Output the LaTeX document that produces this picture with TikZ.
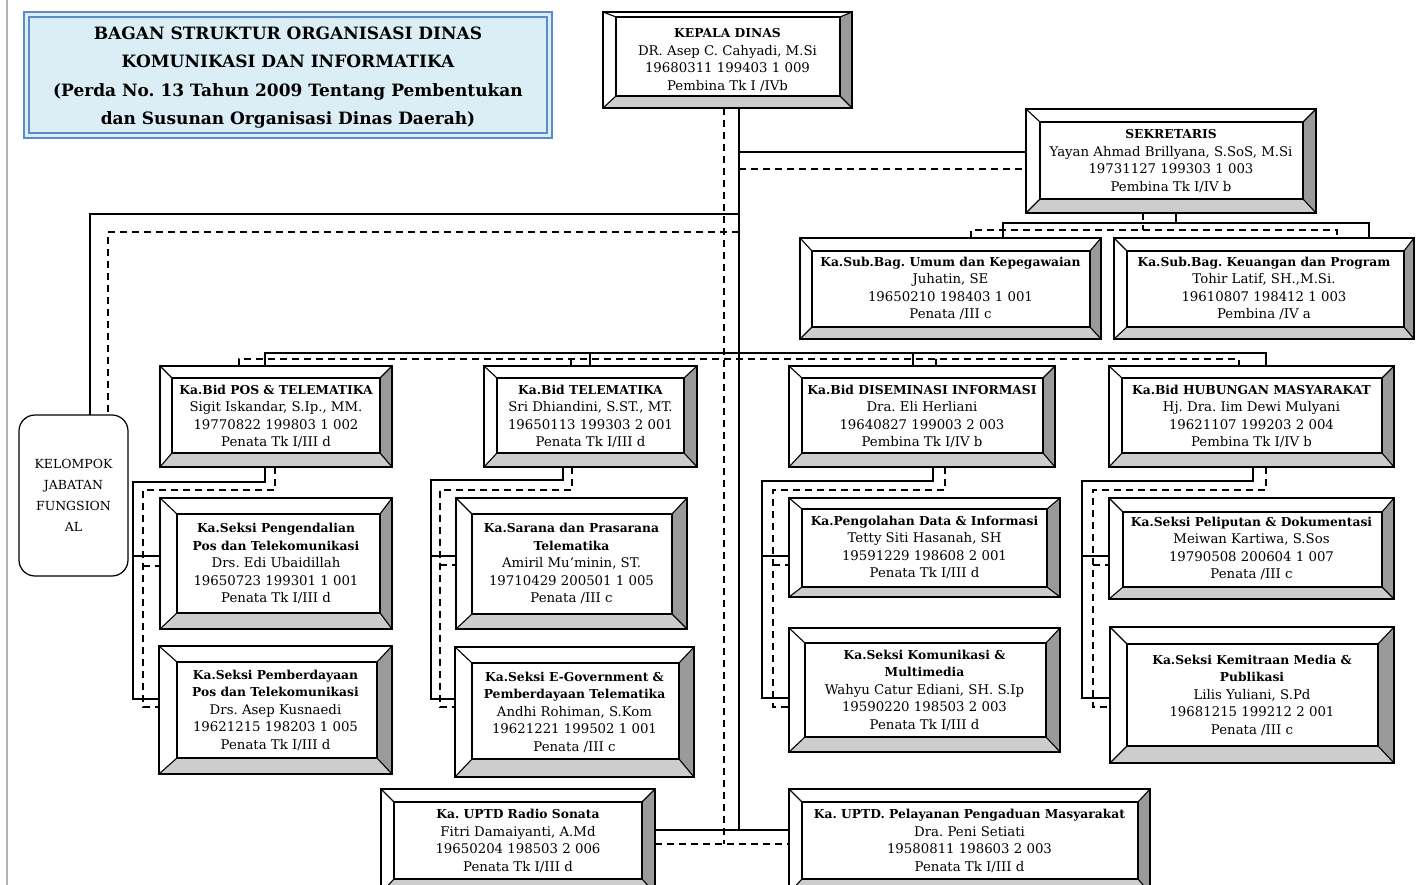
\documentclass[tikz,border=0pt]{standalone}
\usepackage{fontspec}
\setmainfont{DejaVu Serif}
\frenchspacing
\definecolor{bevdark}{HTML}{9A9A9A}
\definecolor{bevlight}{HTML}{CDCDCD}
\definecolor{titlefill}{HTML}{DCEEF5}
\definecolor{titleblue}{HTML}{5B8CC8}
\newcommand\boxfont{\fontsize{13.3}{17.5}\selectfont}
\newcommand\hd[1]{{\fontsize{12.3}{17.5}\selectfont\bfseries #1}}
\newcommand\mybev[5]{%
 \fill[bevdark] (#1.north east) -- (#1.south east) -- ([xshift=-#4pt,yshift=#5pt]#1.south east) -- ([xshift=-#4pt,yshift=-#3pt]#1.north east) -- cycle;
 \fill[bevlight] (#1.south west) -- (#1.south east) -- ([xshift=-#4pt,yshift=#5pt]#1.south east) -- ([xshift=#2pt,yshift=#5pt]#1.south west) -- cycle;
 \draw[bevline] (#1.north west) rectangle (#1.south east);
 \draw[bevline] ([xshift=#2pt,yshift=-#3pt]#1.north west) rectangle ([xshift=-#4pt,yshift=#5pt]#1.south east);
 \draw[bevline] (#1.north west) -- ([xshift=#2pt,yshift=-#3pt]#1.north west)
   (#1.north east) -- ([xshift=-#4pt,yshift=-#3pt]#1.north east)
   (#1.south east) -- ([xshift=-#4pt,yshift=#5pt]#1.south east)
   (#1.south west) -- ([xshift=#2pt,yshift=#5pt]#1.south west);
}
\tikzset{
 bevline/.style={line width=1.1pt, black},
 bx/.style={draw, fill=white, line width=1.1pt, inner sep=0pt, outer sep=0pt, align=center, font=\boxfont},
 sl/.style={line width=1.1pt, black},
 dl/.style={line width=1.3pt, black, dash pattern=on 7pt off 5pt},
 titlebox/.style={draw=titleblue, fill=titlefill, line width=2.4pt, inner sep=0pt, outer sep=0pt},
 titletext/.style={inner sep=0pt, align=center, font=\fontsize{17}{28.3}\selectfont\bfseries},
 kelbox/.style={draw, fill=white, line width=1.2pt, rounded corners=16pt, inner sep=0pt, outer sep=0pt, align=center, font=\fontsize{12.5}{21}\selectfont}
}
\begin{document}
\begin{tikzpicture}[x=1pt,y=-1pt]
\clip (0,0) rectangle (1421,885);
\fill[white] (0,0) rectangle (1421,885);
\draw[black!30, line width=1.5pt] (7,0) -- (7,885);

% title
\node[titlebox, minimum width=528pt, minimum height=126pt] (title) at (288,75) {};
\draw[titleblue, line width=1.2pt] ([shift={(5pt,-5pt)}]title.north west) rectangle ([shift={(-5pt,5pt)}]title.south east);
\node[titletext] (titlet) at (288,77.5)
 {BAGAN STRUKTUR ORGANISASI DINAS\\KOMUNIKASI DAN INFORMATIKA\\(Perda No. 13 Tahun 2009 Tentang Pembentukan\\dan Susunan Organisasi Dinas Daerah)};

% boxes
\node[bx, minimum width=249pt, minimum height=96pt] (kd) at (727.5,60)
 {\hd{KEPALA DINAS}\\DR. Asep C. Cahyadi, M.Si\\19680311 199403 1 009\\Pembina Tk I /IVb};
\mybev{kd}{13}{5}{12}{12}

\node[bx, minimum width=290pt, minimum height=104pt] (sek) at (1171,161)
 {\hd{SEKRETARIS}\\Yayan Ahmad Brillyana, S.SoS, M.Si\\19731127 199303 1 003\\Pembina Tk I/IV b};
\mybev{sek}{14}{13}{13}{14}

\node[bx, minimum width=301pt, minimum height=101pt] (umum) at (950.5,288.5)
 {\hd{Ka.Sub.Bag. Umum dan Kepegawaian}\\Juhatin, SE\\19650210 198403 1 001\\Penata /III c};
\mybev{umum}{12}{13}{11}{12}

\node[bx, minimum width=300pt, minimum height=101pt] (keu) at (1264,288.5)
 {\hd{Ka.Sub.Bag. Keuangan dan Program}\\Tohir Latif, SH.,M.Si.\\19610807 198412 1 003\\Pembina /IV a};
\mybev{keu}{13}{13}{10}{12}

\node[bx, minimum width=232pt, minimum height=101pt] (pos) at (276,416.5)
 {\hd{Ka.Bid POS \& TELEMATIKA}\\Sigit Iskandar, S.Ip., MM.\\19770822 199803 1 002\\Penata Tk I/III d};
\mybev{pos}{12}{12}{12}{14}

\node[bx, minimum width=213pt, minimum height=101pt] (tel) at (590.5,416.5)
 {\hd{Ka.Bid TELEMATIKA}\\Sri Dhiandini, S.ST., MT.\\19650113 199303 2 001\\Penata Tk I/III d};
\mybev{tel}{13}{12}{13}{14}

\node[bx, minimum width=266pt, minimum height=101pt] (dis) at (922,416.5)
 {\hd{Ka.Bid DISEMINASI INFORMASI}\\Dra. Eli Herliani\\19640827 199003 2 003\\Pembina Tk I/IV b};
\mybev{dis}{13}{12}{12}{14}

\node[bx, minimum width=285pt, minimum height=101pt] (hum) at (1251.5,416.5)
 {\hd{Ka.Bid HUBUNGAN MASYARAKAT}\\Hj. Dra. Iim Dewi Mulyani\\19621107 199203 2 004\\Pembina Tk I/IV b};
\mybev{hum}{13}{12}{12}{14}

\node[bx, minimum width=232pt, minimum height=131pt] (pen) at (276,563.5)
 {\hd{Ka.Seksi Pengendalian}\\\hd{Pos dan Telekomunikasi}\\Drs. Edi Ubaidillah\\19650723 199301 1 001\\Penata Tk I/III d};
\mybev{pen}{17}{16}{12}{16}

\node[bx, minimum width=233pt, minimum height=128pt] (pem) at (275.5,710)
 {\hd{Ka.Seksi Pemberdayaan}\\\hd{Pos dan Telekomunikasi}\\Drs. Asep Kusnaedi\\19621215 198203 1 005\\Penata Tk I/III d};
\mybev{pem}{18}{16}{15}{16}

\node[bx, minimum width=231pt, minimum height=131pt] (sar) at (571.5,563.5)
 {\hd{Ka.Sarana dan Prasarana}\\\hd{Telematika}\\Amiril Mu'minin, ST.\\19710429 200501 1 005\\Penata /III c};
\mybev{sar}{16}{16}{15}{15}

\node[bx, minimum width=239pt, minimum height=130pt] (egov) at (574.5,712)
 {\hd{Ka.Seksi E-Government \&}\\\hd{Pemberdayaan Telematika}\\Andhi Rohiman, S.Kom\\19621221 199502 1 001\\Penata /III c};
\mybev{egov}{17}{16}{15}{18}

\node[bx, minimum width=271pt, minimum height=99pt] (peng) at (924.5,547.5)
 {\hd{Ka.Pengolahan Data \& Informasi}\\Tetty Siti Hasanah, SH\\19591229 198608 2 001\\Penata Tk I/III d};
\mybev{peng}{13}{11}{13}{10}

\node[bx, minimum width=271pt, minimum height=124pt] (kom) at (924.5,690)
 {\hd{Ka.Seksi Komunikasi \&}\\\hd{Multimedia}\\Wahyu Catur Ediani, SH. S.Ip\\19590220 198503 2 003\\Penata Tk I/III d};
\mybev{kom}{16}{15}{14}{15}

\node[bx, minimum width=285pt, minimum height=101pt] (pel) at (1251.5,548.5)
 {\hd{Ka.Seksi Peliputan \& Dokumentasi}\\Meiwan Kartiwa, S.Sos\\19790508 200604 1 007\\Penata /III c};
\mybev{pel}{14}{14}{12}{12}

\node[bx, minimum width=284pt, minimum height=136pt] (kem) at (1252,695)
 {\hd{Ka.Seksi Kemitraan Media \&}\\\hd{Publikasi}\\Lilis Yuliani, S.Pd\\19681215 199212 2 001\\Penata /III c};
\mybev{kem}{17}{17}{16}{17}

\node[bx, minimum width=274pt, minimum height=104pt] (rs) at (518,841)
 {\hd{Ka. UPTD Radio Sonata}\\Fitri Damaiyanti, A.Md\\19650204 198503 2 006\\Penata Tk I/III d};
\mybev{rs}{13}{13}{13}{14}

\node[bx, minimum width=361pt, minimum height=104pt] (up) at (969.5,841)
 {\hd{Ka. UPTD. Pelayanan Pengaduan Masyarakat}\\Dra. Peni Setiati\\19580811 198603 2 003\\Penata Tk I/III d};
\mybev{up}{13}{13}{12}{14}

\node[kelbox, minimum width=109pt, minimum height=161pt] (kel) at (73.5,495.5)
 {KELOMPOK\\JABATAN\\FUNGSION\\AL};

% trunk
\draw[sl] (kd.south -| 739,0) -- (739,830);
\draw[dl] (kd.south -| 724,0) -- (724,844);
% to sekretaris
\draw[sl] (739,152) -- (sek.west |- 0,152);
\draw[dl] (739,169) -- (sek.west |- 0,169);
% to kelompok
\draw[sl] (739,214) -| (kel.north -| 90,0);
\draw[dl] (739,232) -| (kel.north -| 108,0);
% sekretaris to subbag
\draw[sl] (sek.south -| 1176,0) -- (1176,223);
\draw[sl] (umum.north -| 1003,0) -- (1003,223) -- (1369,223) -- (keu.north -| 1369,0);
\draw[dl] (sek.south -| 1143,0) -- (1143,230);
\draw[dl] (umum.north -| 971,0) -- (971,230) -- (1337,230) -- (keu.north -| 1337,0);
% bid level
\draw[sl] (pos.north -| 265,0) -- (265,353) -- (1266,353) -- (hum.north -| 1266,0);
\draw[sl] (590,353) -- (tel.north -| 590,0);
\draw[sl] (913,353) -- (dis.north -| 913,0);
\draw[dl] (pos.north -| 239,0) -- (239,359) -- (1239,359) -- (hum.north -| 1239,0);
\draw[dl] (571,359) -- (tel.north -| 571,0);
\draw[dl] (936,359) -- (dis.north -| 936,0);
% POS column
\draw[sl] (pos.south -| 265,0) -- (265,482) -- (133,482) -- (133,699) -- (pem.west |- 0,699);
\draw[sl] (133,556) -- (pen.west |- 0,556);
\draw[dl] (pos.south -| 275,0) -- (275,490) -- (143,490) -- (143,707) -- (pem.west |- 0,707);
\draw[dl] (143,566) -- (pen.west |- 0,566);
% TELEMATIKA column
\draw[sl] (tel.south -| 563,0) -- (563,480) -- (431,480) -- (431,699) -- (egov.west |- 0,699);
\draw[sl] (431,556) -- (sar.west |- 0,556);
\draw[dl] (tel.south -| 572,0) -- (572,490) -- (440,490) -- (440,707) -- (egov.west |- 0,707);
\draw[dl] (440,565) -- (sar.west |- 0,565);
% DISEMINASI column
\draw[sl] (dis.south -| 933,0) -- (933,481) -- (762,481) -- (762,698) -- (kom.west |- 0,698);
\draw[sl] (762,556) -- (peng.west |- 0,556);
\draw[dl] (dis.south -| 945,0) -- (945,490) -- (773,490) -- (773,707) -- (kom.west |- 0,707);
\draw[dl] (773,565) -- (peng.west |- 0,565);
% HUMAS column
\draw[sl] (hum.south -| 1253,0) -- (1253,481) -- (1082,481) -- (1082,698) -- (kem.west |- 0,698);
\draw[sl] (1082,556) -- (pel.west |- 0,556);
\draw[dl] (hum.south -| 1266,0) -- (1266,490) -- (1093,490) -- (1093,707) -- (kem.west |- 0,707);
\draw[dl] (1093,565) -- (pel.west |- 0,565);
% UPTD
\draw[sl] (rs.east |- 0,830) -- (up.west |- 0,830);
\draw[dl] (rs.east |- 0,844) -- (up.west |- 0,844);
\end{tikzpicture}
\end{document}
